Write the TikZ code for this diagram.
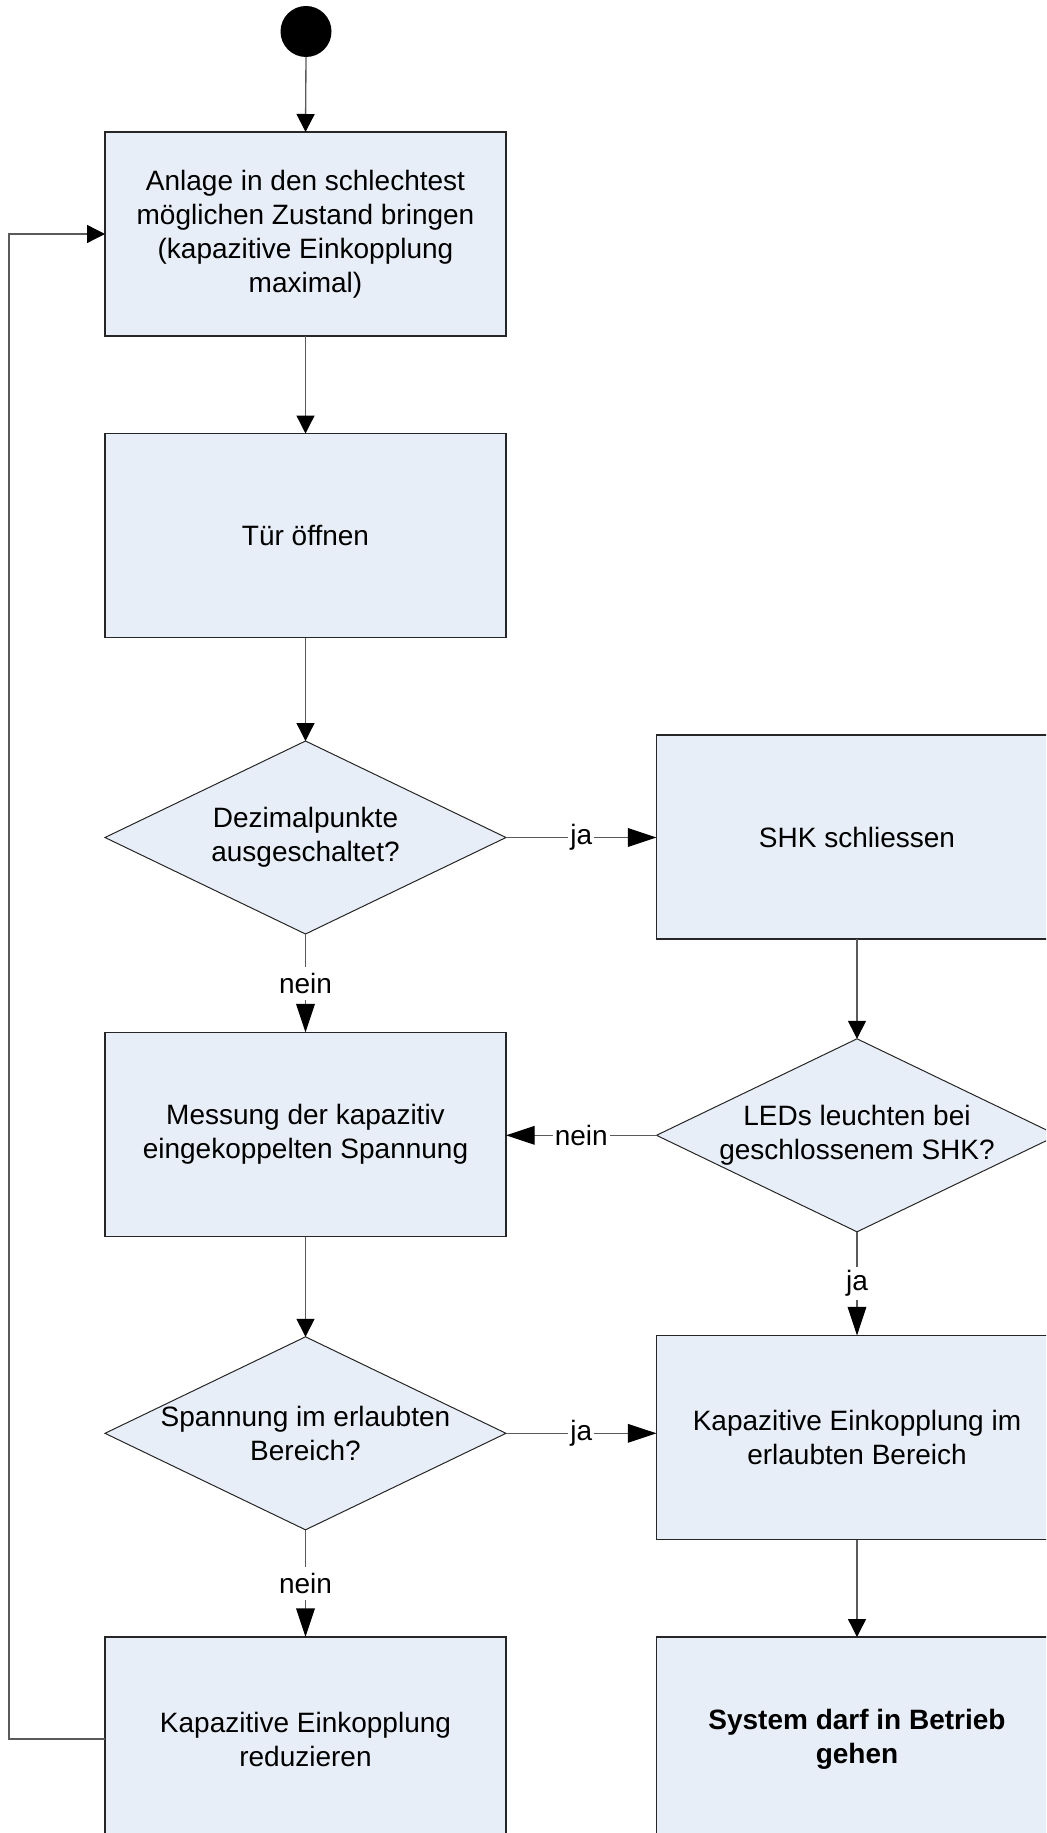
\documentclass[tikz,border=0pt]{standalone}
\usepackage{fontspec}
\setmainfont{Liberation Sans}
\usetikzlibrary{shapes.geometric,arrows.meta}
\definecolor{boxfill}{RGB}{232,238,247}
\definecolor{linegray}{RGB}{90,90,90}
\begin{document}
\begin{tikzpicture}[x=0.75pt,y=-0.75pt,
  every node/.style={font=\fontsize{21}{25.5}\selectfont},
  proc/.style={draw=black!85, line width=1pt, fill=boxfill, minimum width=300.75pt, minimum height=153pt, outer sep=0pt, inner sep=0pt, align=center},
  dec/.style={diamond, draw=black!85, line width=0.75pt, fill=boxfill, minimum width=300.75pt, minimum height=144.75pt, outer sep=0pt, inner sep=0pt},
  dtext/.style={align=center, inner sep=0pt},
  conn/.style={draw=linegray, line width=1pt, -{Triangle[length=13.5pt,width=13.5pt,color=black]}},
  lconn/.style={draw=linegray, line width=1pt, -{Triangle[length=21.5pt,width=14pt,color=black]}},
  lab/.style={fill=white, inner xsep=1.5pt, inner ysep=0pt, minimum height=25pt},
  startdot/.style={circle, fill=black, minimum size=38.25pt, inner sep=0pt, outer sep=0pt}
]
\useasboundingbox (0,0) rectangle (1046,1833);
\clip (0,0) rectangle (1046,1833);

\node[startdot] (start) at (306,31.5) {};
\node[proc] (b1) at (305.5,234) {Anlage in den schlechtest\\möglichen Zustand bringen\\(kapazitive Einkopplung\\maximal)};
\node[proc] (b2) at (305.5,535.5) {Tür öffnen};
\node[dec] (d1) at (305.5,837.5) {};
\node[dtext] (d1t) at (d1) {Dezimalpunkte\\ausgeschaltet?};
\node[proc] (shk) at (857,837) {SHK schliessen};
\node[proc] (mes) at (305.5,1134.5) {Messung der kapazitiv\\eingekoppelten Spannung};
\node[dec] (d2) at (857,1135.3) {};
\node[dtext] (d2t) at (d2) {LEDs leuchten bei\\geschlossenem SHK?};
\node[dec] (d3) at (305.5,1433.3) {};
\node[dtext] (d3t) at (d3) {Spannung im erlaubten\\Bereich?};
\node[proc] (kap) at (857,1437.5) {Kapazitive Einkopplung im\\erlaubten Bereich};
\node[proc] (red) at (305.5,1739) {Kapazitive Einkopplung\\reduzieren};
\node[proc] (sys) at (857,1739) {\textbf{System darf in Betrieb}\\\textbf{gehen}};
\coordinate (loopx) at (9,0);

\draw[conn] (start.south) -- (b1.north);
\draw[conn] (b1.south) -- (b2.north);
\draw[conn] (b2.south) -- (d1.north);
\draw[lconn] (d1.east) -- node[lab]{ja} (d1.east -| shk.west);
\draw[lconn] (d1.south) -- node[lab]{nein} (mes.north);
\draw[conn] (shk.south) -- (d2.north);
\draw[lconn] (d2.west) -- node[lab]{nein} (d2.west -| mes.east);
\draw[conn] (mes.south) -- (d3.north);
\draw[lconn] (d2.south) -- node[lab]{ja} (kap.north);
\draw[lconn] (d3.east) -- node[lab]{ja} (d3.east -| kap.west);
\draw[lconn] (d3.south) -- node[lab]{nein} (red.north);
\draw[conn] (kap.south) -- (sys.north);
\draw[conn] (red.west) -- (red.west -| loopx) |- (b1.west);
\end{tikzpicture}
\end{document}
